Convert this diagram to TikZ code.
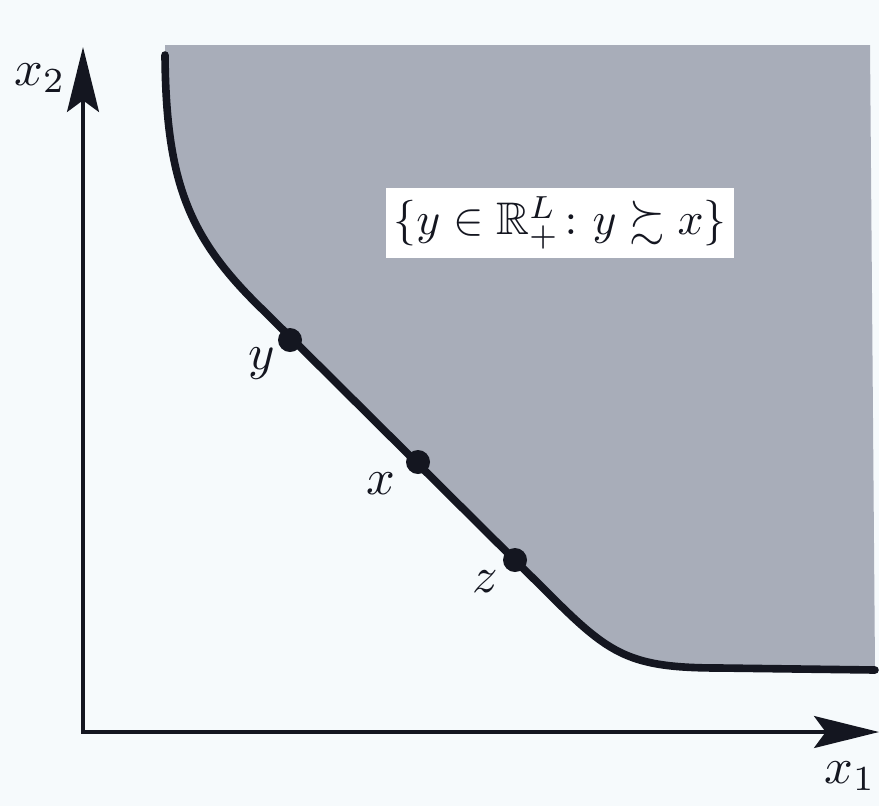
\documentclass[tikz,border=0pt]{standalone}
\usepackage{graphicx}
\usepackage{amsmath,amssymb}
\usetikzlibrary{arrows.meta}
\definecolor{paper}{RGB}{246,250,252}
\definecolor{shadecol}{RGB}{168,173,185}
\definecolor{ink}{RGB}{20,22,32}
\newcommand{\bigtxt}[2]{\scalebox{#1}{#2}}
\begin{document}
\begin{tikzpicture}[x=0.03cm,y=-0.03cm,
  axis/.style={line width=2.6pt,draw=ink,-{Stealth[length=1.95cm,width=0.96cm,inset=0.35cm]}},
  boundary/.style={line width=6.5pt,draw=ink,line cap=round},
  dotnode/.style={circle,fill=ink,inner sep=0pt,minimum size=0.72cm},
  lab/.style={text=ink,inner sep=0pt}]
\fill[paper] (0,0) rectangle (879,806);
\useasboundingbox (0,0) rectangle (879,806);
% shaded upper contour set
\fill[shadecol] (165,55) .. controls (166,185) and (190,240) .. (265,312)
  -- (550,595) .. controls (610,655) and (630,668) .. (720,668)
  -- (875,670) -- (870,45) -- (165,45) -- cycle;
% axes
\coordinate (O) at (83,732);
\coordinate (Yend) at (83,47);
\coordinate (Xend) at (879,732);
\draw[axis] (O) -- (Yend);
\draw[axis] (O) -- (Xend);
\draw[line width=2.6pt,draw=ink] (83,720) -- (O) -- (95,732);
% boundary
\draw[boundary] (165,55) .. controls (166,185) and (190,240) .. (265,312)
  -- (550,595) .. controls (610,655) and (630,668) .. (720,668)
  -- (875,670);
% points
\node[dotnode] (py) at (290,340) {};
\node[dotnode] (px) at (418,462) {};
\node[dotnode] (pz) at (515,560) {};
\node[lab] (ly) at (262,364) {\bigtxt{4.3}{$y$}};
\node[lab] (lx) at (381,484) {\bigtxt{4.3}{$x$}};
\node[lab] (lz) at (485,582) {\bigtxt{4.3}{$z$}};
% axis labels
\node[lab] (lx2) at (40,78) {\bigtxt{4.3}{$x_2$}};
\node[lab] (lx1) at (850,776) {\bigtxt{4.3}{$x_1$}};
% set label
\node[fill=white,text=ink,inner xsep=6pt,inner ysep=7pt] (set) at (560,223)
  {\bigtxt{3.9}{$\{y\in\mathbb{R}^L_+\colon y\succsim x\}$}};
\end{tikzpicture}
\end{document}
